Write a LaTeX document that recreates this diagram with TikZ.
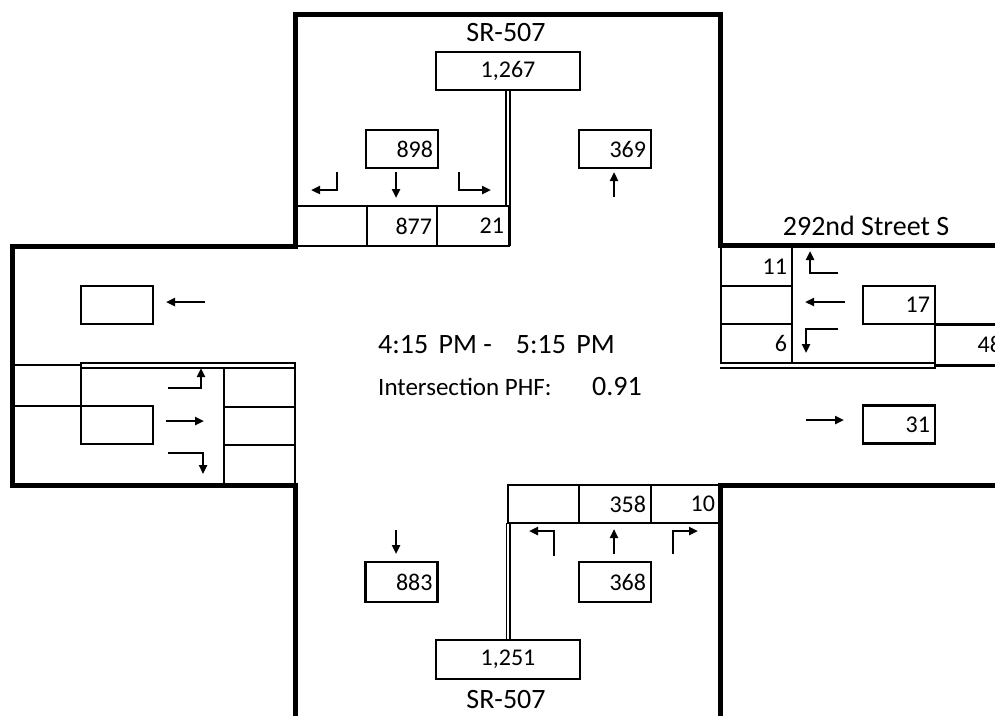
\documentclass[tikz,border=0pt]{standalone}
\usepackage{fontspec}
\setmainfont{Carlito}
\usetikzlibrary{arrows.meta}
\newcommand\volfont{\fontsize{24}{28}\selectfont}
\newcommand\bigfont{\fontsize{28}{33}\selectfont}
\newcommand\midfont{\fontsize{25}{30}\selectfont}
\begin{document}
\begin{tikzpicture}[x=1pt,y=-1pt,
  road/.style={line width=5pt},
  lane/.style={line width=2.7pt},
  dblline/.style={line width=1.7pt},
  twin/.style={line width=2.2pt},
  cellbox/.style={draw, line width=2.7pt, inner xsep=5pt, inner ysep=0pt, align=right, font=\volfont},
  wbox/.style={cellbox, text width=62pt, minimum height=38pt},
  mv/.style={line width=2.3pt, -{Triangle[length=9pt,width=8pt]}},
  lbl/.style={font=\bigfont, inner sep=0pt}
]
\useasboundingbox (0,0) rectangle (995,716);

% road outline
\draw[road] (295,716) -- (295,485) -- (12,485) -- (12,246) -- (295,246) -- (295,14) -- (720,14) -- (720,245) -- (995,245);
\draw[road] (995,485) -- (720,485) -- (720,716);

% ---------- North ----------
\node[lbl] (srn) at (506,33) {SR-507};
\node[cellbox, text width=134pt, minimum height=38pt, align=center] (n1267) at (508,71) {1,267};
\node[wbox] (n898) at (402,149) {898};
\node[wbox] (n369) at (615,149) {369};
\node[cellbox, text width=61pt, minimum height=40pt] (nc1) at (331.5,226) {};
\node[cellbox, text width=60pt, minimum height=40pt] (nc2) at (402,226) {877};
\node[cellbox, text width=62pt, minimum height=40pt] (nc3) at (473,226) {21};
\draw[dblline] (506,90) -- (506,206);
\draw[dblline] (509.8,90) -- (509.8,246);
\draw[mv] (337,172) -- (337,190) -- (311,190);
\draw[mv] (396,172) -- (396,198);
\draw[mv] (459,172) -- (459,190) -- (491,190);
\draw[mv] (614,197) -- (614,172);

% ---------- West ----------
\node[wbox] (wout) at (117,305) {};
\draw[mv] (205,302) -- (166,302);
\node[wbox] (win) at (117,425) {};
\draw[lane] (12,365) -- (81,365);
\draw[lane] (12,406) -- (81,406);
\draw[lane] (81,363) -- (81,406);
\draw[twin] (80,363.3) -- (296,363.3);
\draw[twin] (81,368) -- (295,368);
\draw[lane] (295,362) -- (295,368);
\node[cellbox, text width=61pt, minimum height=39pt] (wc1) at (259.5,387.5) {};
\node[cellbox, text width=61pt, minimum height=38pt] (wc2) at (259.5,426) {};
\node[cellbox, text width=61pt, minimum height=40pt] (wc3) at (259.5,465) {};
\draw[mv] (168,388) -- (201,388) -- (201,368);
\draw[mv] (166,421) -- (204,421);
\draw[mv] (168,453) -- (203,453) -- (203,474);

% ---------- East ----------
\node[lbl] (ename) at (866,226) {292nd Street S};
\node[cellbox, text width=61pt, minimum height=39pt] (ec1) at (756.5,266.5) {11};
\node[cellbox, text width=61pt, minimum height=38pt] (ec2) at (756.5,305) {};
\node[cellbox, text width=61pt, minimum height=39pt] (ec3) at (756.5,343.5) {6};
\draw[twin] (720,363.3) -- (935,363.3);
\draw[twin] (720,368) -- (936,368);
\node[wbox] (e17) at (899,305) {17};
\begin{scope}
\clip (0,0) rectangle (995,716);
\node[wbox, minimum height=41pt] (e48) at (971,344.75) {48};
\end{scope}
\draw[lane] (935,362) -- (935,369);
\draw[mv] (838,273) -- (810,273) -- (810,251);
\draw[mv] (845,302) -- (805,302);
\draw[mv] (838,329) -- (806,329) -- (806,353);
\draw[mv] (806,420) -- (844,420);
\node[wbox] (e31) at (899,424.5) {31};

% ---------- South ----------
\node[cellbox, text width=61pt, minimum height=38pt] (sc1) at (543.5,504) {};
\node[cellbox, text width=62pt, minimum height=38pt] (sc2) at (615,504) {358};
\node[cellbox, text width=59pt, minimum height=38pt] (sc3) at (685.5,504) {10};
\draw[dblline] (506.5,523) -- (506.5,640);
\draw[dblline] (510.2,523) -- (510.2,640);
\node[cellbox, text width=134pt, minimum height=39pt, align=center] (s1251) at (508,659.5) {1,251};
\node[lbl] (srs) at (506,699) {SR-507};
\node[wbox, minimum height=40pt] (s883) at (401.5,582) {883};
\node[wbox, minimum height=40pt] (s368) at (615,582) {368};
\draw[mv] (396,530) -- (396,554);
\draw[mv] (554,556) -- (554,531) -- (529,531);
\draw[mv] (614,554) -- (614,529);
\draw[mv] (673,554) -- (673,531) -- (698,531);

% ---------- Centre ----------
\node[font=\bigfont, anchor=base west, inner sep=0pt] (time) at (378,353) {4:15\hspace{4pt} PM -\hspace{24pt}5:15\hspace{4pt} PM};
\node[font=\midfont, anchor=base west, inner sep=0pt] (phfl) at (378,395) {Intersection PHF:};
\node[font=\bigfont, anchor=base west, inner sep=0pt] (phfv) at (592,395) {0.91};
\end{tikzpicture}
\end{document}
